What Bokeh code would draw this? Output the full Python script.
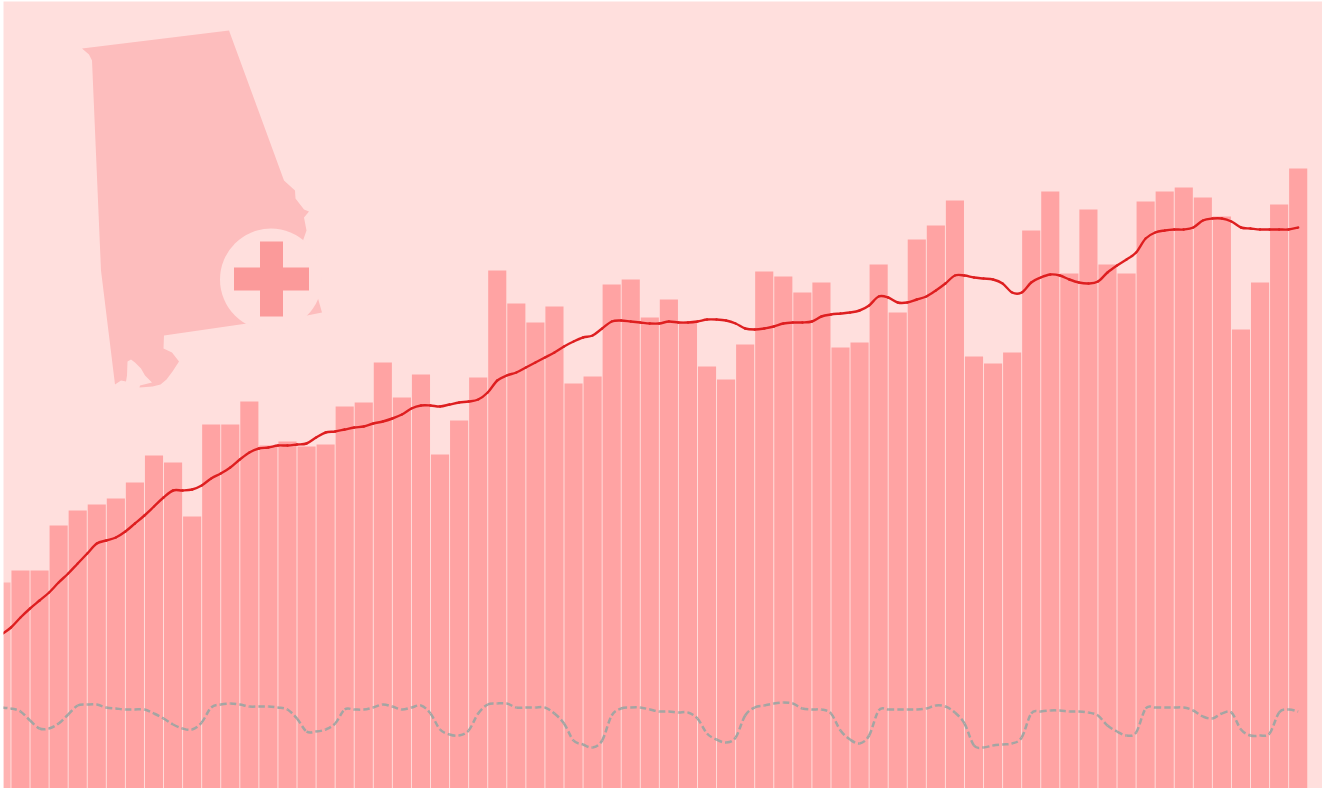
from bokeh.plotting import figure
from bokeh.embed import file_html
from bokeh.resources import INLINE
import numpy as np

BAR_VALUES = [206,218,218,263,278,284,290,306,333,326,272,364,364,387,343,347,342,344,382,386,
              426,391,414,334,368,411,518,485,466,482,405,412,504,509,471,489,467,422,409,444,
              517,512,496,506,441,446,524,476,549,563,588,432,425,436,558,597,515,579,524,515,
              587,597,601,591,572,459,506,584,620]

TREND = [154,161,171,180,188,196,206,215,225,235,245,248,251,257,265,273,282,291,298,298,
         299,303,310,315,321,329,336,340,341,343,343,344,345,351,356,357,359,361,362,365,
         367,370,374,380,383,383,382,384,386,387,389,396,408,413,416,421,426,431,436,442,
         447,451,453,460,467,468,467,466,465,465,467,466,466,467,469,469,468,465,460,459,
         460,462,465,466,466,467,472,474,475,476,478,483,492,491,486,486,489,492,498,505,
         513,513,511,510,509,505,496,496,506,511,514,513,509,506,505,507,516,523,529,536,
         550,556,558,559,559,561,568,570,570,567,561,560,559,559,559,559,561,562]
TREND = TREND[:137]

LOWER = [81,80,77,68,60,60,65,74,83,84,84,81,80,79,79,79,75,70,64,60,
         59,66,81,84,85,84,82,82,82,81,79,70,57,57,59,65,79,79,79,81,
         84,82,79,81,83,75,59,54,53,58,75,84,85,85,81,81,81,81,75,65,
         48,44,41,48,73,80,81,81,79,77,77,76,76,70,55,49,46,51,73,81,
         83,85,86,85,80,79,79,75,58,49,45,53,78,79,79,79,79,80,83,82,
         76,65,43,41,43,44,45,51,75,77,78,78,77,77,76,73,63,57,53,56,
         80,81,81,81,81,78,72,70,75,76,59,53,53,55,76,79,77,77]
LOWER = LOWER[:137]

MAP_PX_X = [81.5,228.5,283.5,294.5,295,303.5,308.5,303.5,306,302.5,317.5,321.5,306.5,246.5,163.5,163,171.5,178.5,172,166,
            160,152,139,139.5,151.5,144.5,140.5,134.5,130.5,127,126.5,125.5,120.5,114.5,100.5,91.5,88.5]
MAP_PX_Y = [48,30,180,190,198,209,211,217,230,240,298,312,315,323,335,348,352,361,371,379,
            384,386,387,385,382,375,368,362,359,361,375,381,380,384,270,60,54]

BG = "#FFDFDD"
BAR = "#FFA3A3"
FIRST_BAR = "#FFB3B2"
MAP = "#FDBDBD"
CROSS = "#FB9A9A"

W, H = 1319, 787
LEFT_PX, TOP_PX = 3, 1
STEP = 19.07
X0 = 0.93


def sx(px):
    return (np.asarray(px, dtype=float) - X0) / STEP


def sy(py):
    return 788 - np.asarray(py, dtype=float)


def curve_controls(xs, ys):
    """Bezier handles so that the drawn line passes smoothly through every read value."""
    xs, ys = np.asarray(xs, dtype=float), np.asarray(ys, dtype=float)
    px = np.r_[xs[0], xs, xs[-1]]
    py = np.r_[ys[0], ys, ys[-1]]
    return dict(
        x0=xs[:-1], y0=ys[:-1], x1=xs[1:], y1=ys[1:],
        cx0=xs[:-1] + (px[2:-1] - px[:-3]) / 6, cy0=ys[:-1] + (py[2:-1] - py[:-3]) / 6,
        cx1=xs[1:] - (px[3:] - px[1:-2]) / 6, cy1=ys[1:] - (py[3:] - py[1:-2]) / 6,
    )


p = figure(width=W, height=H, output_backend="svg", toolbar_location=None,
           x_range=(float(sx(LEFT_PX)), float(sx(LEFT_PX + W))), y_range=(0, 787),
           min_border=0, min_border_left=0, min_border_right=0, min_border_top=0, min_border_bottom=0,
           background_fill_color=BG, border_fill_color=BG, outline_line_color=None,
           x_axis_location=None, y_axis_location=None)
p.grid.visible = False
p.styles = {"position": "fixed", "left": f"{LEFT_PX}px", "top": f"{TOP_PX}px"}

# decorative state silhouette with badge
p.patch(sx(MAP_PX_X), sy(MAP_PX_Y), fill_color=MAP, line_color=None)
p.scatter([float(sx(270.5))], [float(sy(279))], size=102, marker="circle", fill_color=BG, line_color=None)
p.quad(left=[float(sx(233.5)), float(sx(259.5))], right=[float(sx(308.5)), float(sx(282.5))],
       top=[float(sy(267)), float(sy(241))], bottom=[float(sy(290)), float(sy(316))],
       fill_color=CROSS, line_color=None)

x_bars = list(range(len(BAR_VALUES)))
colors = [FIRST_BAR] + [BAR] * (len(BAR_VALUES) - 1)
p.vbar(x=x_bars, top=BAR_VALUES, bottom=0, width=0.95, fill_color=colors, line_color=None)

x_lines = np.arange(len(TREND)) / 2
p.bezier(**curve_controls(x_lines, TREND), line_color="#DE1F20", line_width=2.4, line_cap="round")
p.bezier(**curve_controls(np.arange(len(LOWER)) / 2, LOWER), line_color="#A4A5A3", line_width=2.5,
         line_dash="6 3")

open("out.html", "w").write(file_html(p, INLINE))
